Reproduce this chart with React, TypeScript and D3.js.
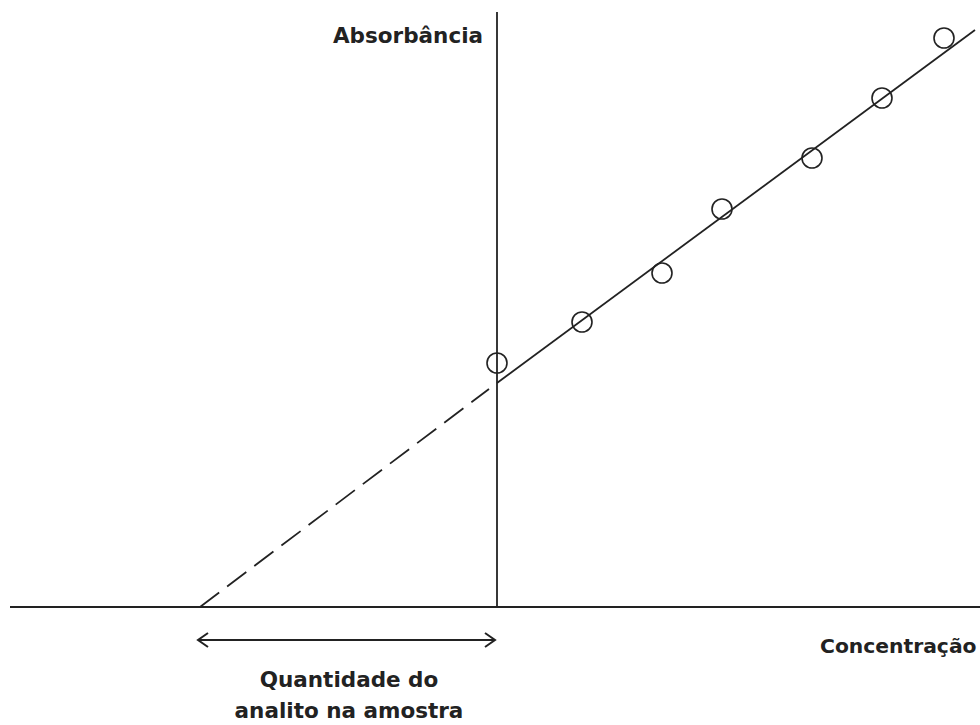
import React from "react";
import * as d3 from "d3";

// Standard-addition data (concentration added vs absorbance)
const concAdded = [0, 0.85, 1.65, 2.25, 3.15, 3.85, 4.47];
const absorbance = [2.44, 2.85, 3.34, 3.98, 4.49, 5.09, 5.69];
const fitIntercept = 2.24;
const fitSlope = 0.7385;
const fitEndX = 4.78;
const extrapXIntercept = -2.97;
const dashGapX = -0.08;
const axisLabels = ["Absorbância", "Concentração"];
const noteLines = ["Quantidade do", "analito na amostra"];

const W = 980;
const H = 725;

export default function App() {
  const x = d3.scaleLinear().domain([-4.87, 4.83]).range([10, 980]);
  const y = d3.scaleLinear().domain([0, 5.95]).range([607, 12]);
  const f = (v: number) => fitIntercept + fitSlope * v;
  const line = d3.line<[number, number]>().x((d) => x(d[0])).y((d) => y(d[1]));
  const solid = line([[0, f(0)], [fitEndX, f(fitEndX)]]) as string;
  const dashed = line([[extrapXIntercept, 0], [dashGapX, f(dashGapX)]]) as string;
  const ink = "#222";
  const font = "'Comic Sans MS', 'DejaVu Sans', sans-serif";
  const fs = 21.5;
  const ay = 640;
  const ax0 = x(extrapXIntercept) - 2;
  const ax1 = x(0) - 2;
  return (
    <svg
      width={W}
      height={H}
      style={{ position: "absolute", left: 0, top: 0, background: "#fff" }}
    >
      <rect width={W} height={H} fill="#fff" />
      {/* axes */}
      <line x1={x(-4.87)} x2={x(4.83)} y1={y(0)} y2={y(0)} stroke={ink} strokeWidth={2} />
      <line x1={x(0)} x2={x(0)} y1={y(0)} y2={y(5.95)} stroke={ink} strokeWidth={1.8} />
      {/* fit line */}
      <path d={solid} stroke={ink} strokeWidth={1.8} fill="none" />
      <path d={dashed} stroke={ink} strokeWidth={1.8} fill="none" strokeDasharray="24 10" />
      {/* points */}
      {concAdded.map((c, i) => (
        <circle key={i} cx={x(c)} cy={y(absorbance[i])} r={10} fill="none" stroke={ink} strokeWidth={1.6} />
      ))}
      {/* arrow */}
      <line x1={ax0} x2={ax1} y1={ay} y2={ay} stroke={ink} strokeWidth={2} />
      <path d={`M${ax0 + 10},${ay - 7} L${ax0},${ay} L${ax0 + 10},${ay + 7}`} stroke={ink} strokeWidth={2} fill="none" />
      <path d={`M${ax1 - 10},${ay - 7} L${ax1},${ay} L${ax1 - 10},${ay + 7}`} stroke={ink} strokeWidth={2} fill="none" />
      {/* labels */}
      <text x={408} y={43} textAnchor="middle" fontFamily={font} fontSize={fs} fontWeight="bold" fill={ink}>
        {axisLabels[0]}
      </text>
      <text x={820} y={653} textAnchor="start" fontFamily={font} fontSize={20.3} fontWeight="bold" fill={ink}>
        {axisLabels[1]}
      </text>
      <text x={349} y={687} textAnchor="middle" fontFamily={font} fontSize={fs} fontWeight="bold" fill={ink}>
        {noteLines[0]}
      </text>
      <text x={349} y={718} textAnchor="middle" fontFamily={font} fontSize={fs} fontWeight="bold" fill={ink}>
        {noteLines[1]}
      </text>
    </svg>
  );
}
